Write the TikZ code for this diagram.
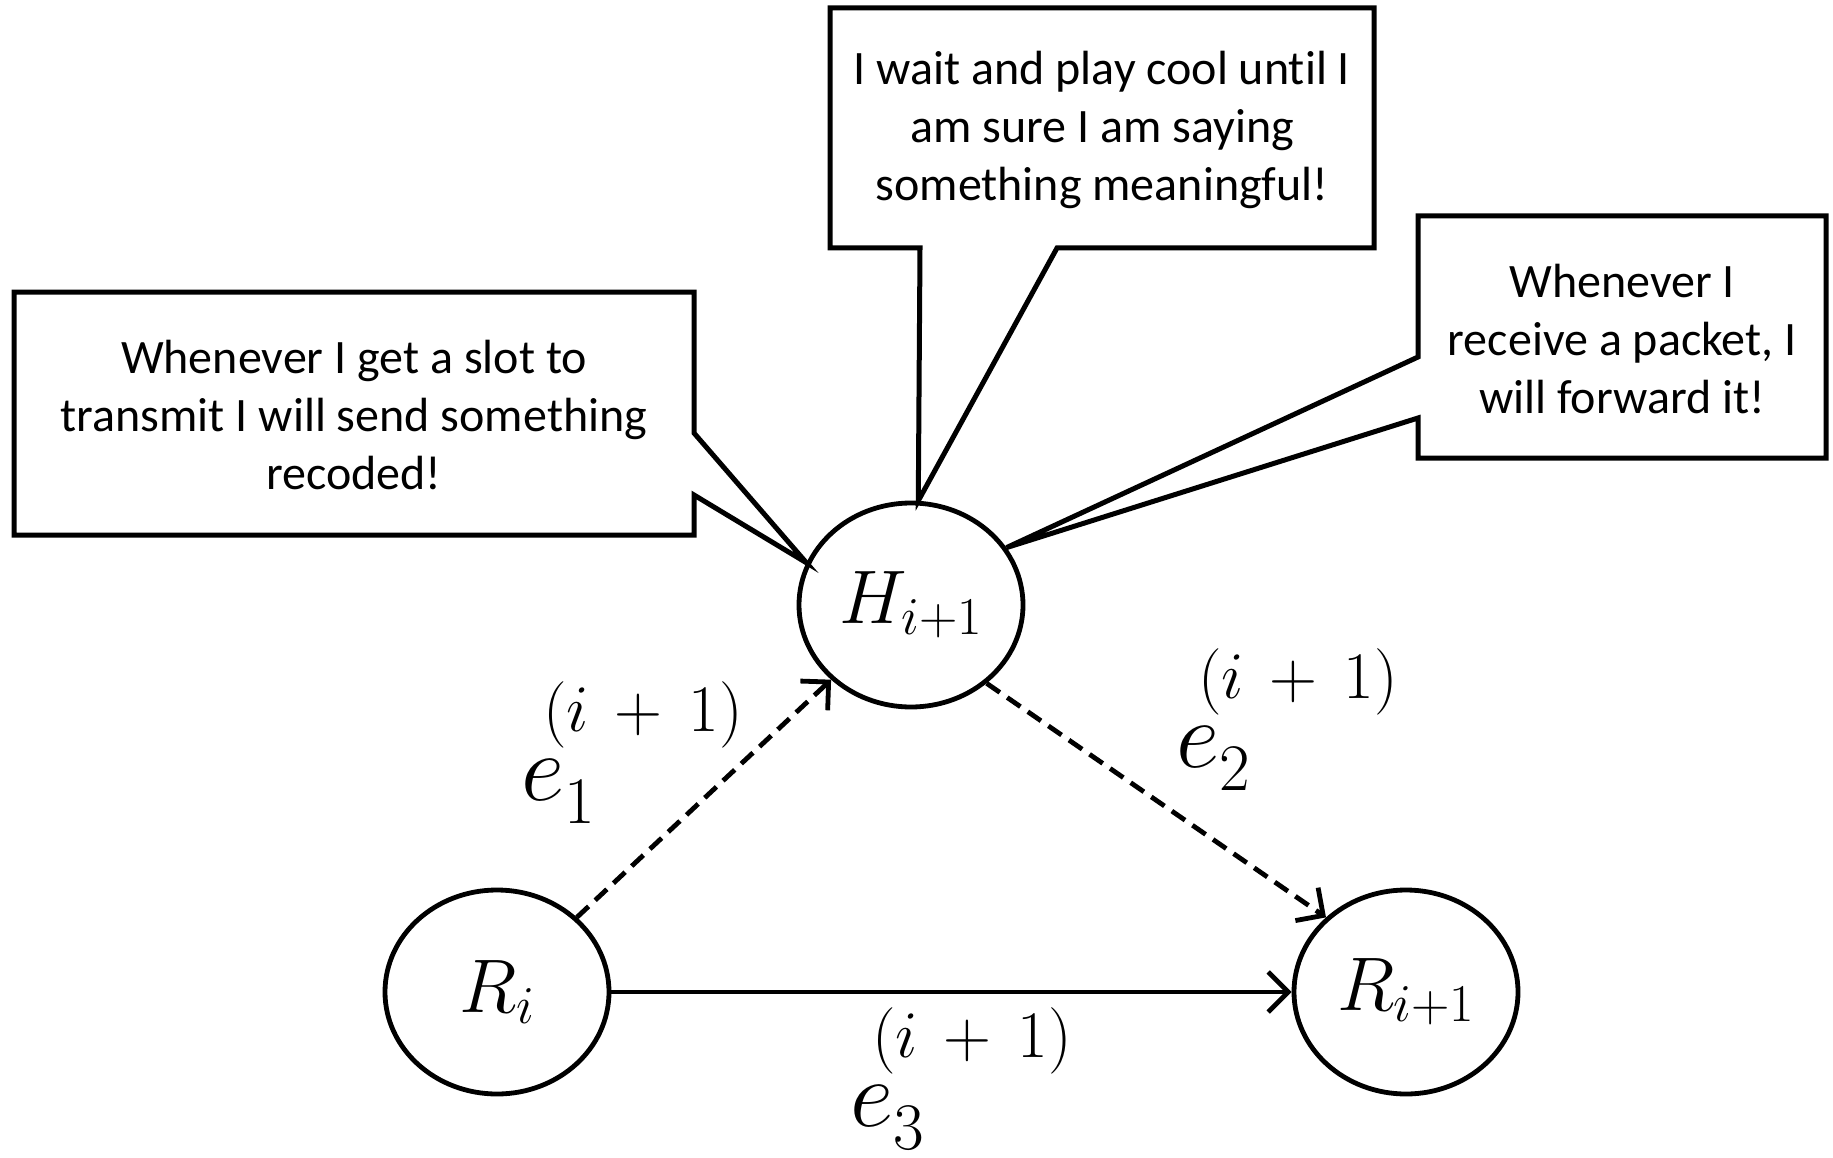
\RequirePackage{fix-cm}
\documentclass[tikz,border=0pt]{standalone}
\usepackage{fontspec}
\newfontfamily\calibri[Ligatures=NoCommon]{Carlito}
\usetikzlibrary{shapes.geometric,arrows.meta}
\newcommand\hisup{^{\raisebox{34pt}{\hspace{-21pt}$\scriptstyle(i\mskip7mu{+}\mskip7mu 1)$}}}
\begin{document}
\begin{tikzpicture}[x=1pt,y=-1pt,
  state/.style={ellipse,draw,line width=4.8pt,minimum width=224pt,minimum height=204pt,inner sep=0pt,font=\fontsize{76}{80}\selectfont},
  say/.style={align=center,font=\calibri\fontsize{48}{58}\selectfont},
  balloon/.style={draw,line width=5pt,line join=miter,fill=white},
  flow/.style={line width=4.8pt,-{Straight Barb[length=20pt,width=40pt]}},
  dashflow/.style={flow,dash pattern=on 16pt off 9pt},
  lab/.style={inner sep=0pt,anchor=base west,font=\fontsize{95}{100}\selectfont}
]
\useasboundingbox (0,0) rectangle (1833,1158);
\fill[white] (0,0) rectangle (1833,1158);

% nodes
\node[state] (H)  at (911,605) {$H_{i+1}$};
\node[state] (Ri) at (497,992) {$R_i$};
\node[state] (Rn) at (1406,992) {$R_{i+1}$};

% callout balloons
\draw[balloon] (14,292) -- (694,292) -- (694,433) -- (H.158) -- (694,495) -- (694,535) -- (14,535) -- cycle;
\draw[balloon] (830,8) -- (1374,8) -- (1374,248) -- (1057,248) -- (H.86) -- (920,248) -- (830,248) -- cycle;
\draw[balloon] (1418,216) -- (1826,216) -- (1826,458) -- (1418,458) -- (1418,418) -- (H.31) -- (1418,357) -- cycle;

\node[say] (t1) at (354,415) {Whenever I get a slot to\\transmit I will send something\\recoded!};
\node[say] (t2) at (1102,130) {I wait and play cool until I\\am sure I am saying\\something meaningful!};
\node[say] (t3) at (1622,339) {Whenever I\\receive a packet, I\\will forward it!};

% edges
\draw[dashflow] (Ri) -- (H);
\draw[dashflow] (H.-46) -- (Rn.137);
\draw[flow] (Ri.east) -- (Rn.west);

% edge labels
\node[lab] (l1) at (521,800) {$e_1\hisup$};
\node[lab] (l2) at (1176,767) {$e_2\hisup$};
\node[lab] (l3) at (850,1126) {$e_3\hisup$};
\end{tikzpicture}
\end{document}
